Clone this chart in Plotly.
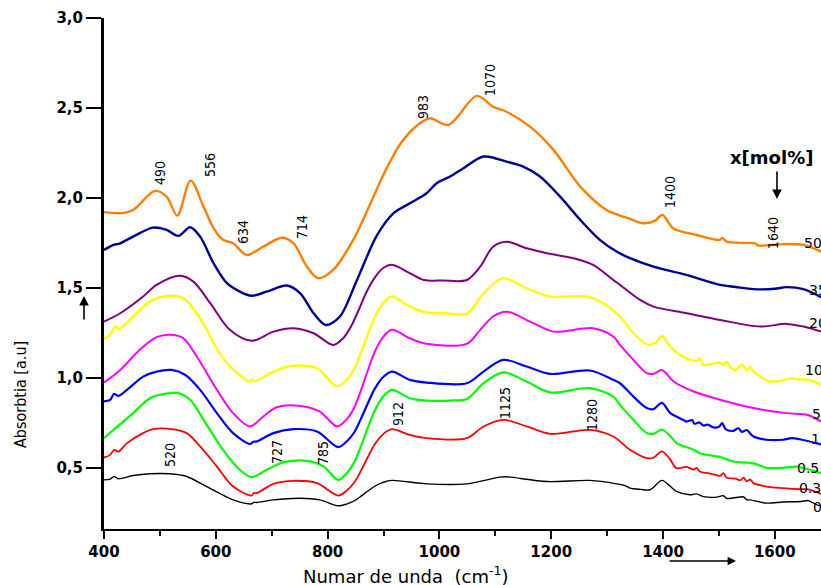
import plotly.graph_objects as go

# ---------------- data ----------------
series_names = ["50", "35", "20", "10", "5", "1", "0.5", "0.3", "0"]

x_50 = [400, 429, 452, 491, 512, 531, 555, 578, 596, 613, 631, 655, 685, 718, 739, 763, 783, 810, 846, 876, 900, 930,
        959, 983, 1016, 1067, 1096, 1120, 1162, 1204, 1252, 1299, 1340, 1365, 1386, 1399, 1418, 1460, 1502, 1506,
        1514, 1540, 1565, 1570, 1600, 1621, 1651, 1683]
y_50 = [1.921, 1.915, 1.933, 2.039, 2.007, 1.902, 2.096, 1.952, 1.832, 1.767, 1.748, 1.683, 1.729, 1.779, 1.748,
        1.618, 1.554, 1.600, 1.767, 1.965, 2.130, 2.300, 2.400, 2.443, 2.406, 2.567, 2.507, 2.479, 2.396, 2.267,
        2.063, 1.933, 1.885, 1.859, 1.874, 1.906, 1.832, 1.794, 1.767, 1.778, 1.757, 1.750, 1.748, 1.736, 1.740,
        1.744, 1.739, 1.702]

x_35 = [400, 410, 417, 429, 452, 488, 512, 533, 554, 572, 596, 620, 643, 664, 691, 727, 751, 775, 797, 822, 852,
        888, 918, 953, 977, 995, 1019, 1043, 1079, 1120, 1150, 1180, 1216, 1252, 1287, 1317, 1341, 1383, 1442, 1502,
        1530, 1562, 1600, 1621, 1651, 1683]
y_35 = [1.711, 1.728, 1.739, 1.748, 1.785, 1.835, 1.822, 1.789, 1.837, 1.785, 1.637, 1.526, 1.479, 1.456, 1.479,
        1.513, 1.470, 1.359, 1.294, 1.341, 1.540, 1.790, 1.915, 1.980, 2.026, 2.082, 2.119, 2.165, 2.230, 2.202,
        2.174, 2.119, 2.007, 1.878, 1.767, 1.702, 1.665, 1.618, 1.572, 1.517, 1.505, 1.493, 1.495, 1.504, 1.493,
        1.448]

x_20 = [400, 429, 470, 494, 536, 560, 590, 625, 664, 703, 739, 775, 810, 828, 843, 856, 870, 885, 900, 915, 947, 972,
        1007, 1049, 1073, 1096, 1120, 1156, 1192, 1240, 1275, 1311, 1323, 1359, 1383, 1442, 1502, 1574, 1621, 1651,
        1683]
y_20 = [1.313, 1.359, 1.452, 1.517, 1.568, 1.535, 1.415, 1.267, 1.206, 1.257, 1.276, 1.248, 1.183, 1.220, 1.292,
        1.380, 1.480, 1.560, 1.612, 1.628, 1.582, 1.544, 1.541, 1.544, 1.618, 1.729, 1.757, 1.720, 1.693, 1.665,
        1.628, 1.544, 1.517, 1.433, 1.396, 1.359, 1.322, 1.285, 1.300, 1.285, 1.257]

x_10 = [400, 411, 420, 426, 452, 482, 518, 542, 566, 584, 596, 620, 661, 666, 670, 680, 703, 739, 781, 817, 835,
        848, 860, 872, 885, 900, 915, 947, 977, 1013, 1049, 1079, 1114, 1156, 1198, 1263, 1293, 1323, 1347, 1374,
        1389, 1398, 1413, 1430, 1448, 1460, 1466, 1472, 1490, 1500, 1508, 1514, 1520, 1532, 1538, 1544, 1550, 1556,
        1562, 1591, 1620, 1630, 1639, 1660, 1683]
y_10 = [1.220, 1.239, 1.285, 1.270, 1.341, 1.424, 1.456, 1.443, 1.359, 1.267, 1.193, 1.081, 0.980, 0.990, 0.982,
        0.995, 1.035, 1.067, 1.054, 0.952, 0.992, 1.052, 1.142, 1.242, 1.342, 1.417, 1.452, 1.396, 1.363, 1.359,
        1.356, 1.470, 1.554, 1.498, 1.452, 1.452, 1.415, 1.341, 1.248, 1.183, 1.202, 1.233, 1.174, 1.128, 1.100,
        1.095, 1.110, 1.072, 1.080, 1.085, 1.072, 1.090, 1.060, 1.044, 1.070, 1.067, 1.040, 1.060, 1.035, 0.980,
        0.990, 0.998, 0.993, 0.990, 0.961]

x_5 = [400, 429, 464, 494, 521, 542, 566, 602, 631, 661, 685, 709, 751, 786, 817, 835, 848, 860, 872, 885, 900, 915,
       947, 977, 1049, 1073, 1096, 1120, 1168, 1204, 1275, 1311, 1323, 1347, 1371, 1383, 1398, 1419, 1455, 1502,
       1562, 1621, 1659, 1683]
y_5 = [0.974, 1.044, 1.156, 1.226, 1.239, 1.220, 1.119, 0.933, 0.804, 0.730, 0.785, 0.837, 0.844, 0.813, 0.730,
       0.773, 0.837, 0.934, 1.041, 1.149, 1.229, 1.267, 1.220, 1.189, 1.189, 1.267, 1.341, 1.368, 1.304, 1.257,
       1.276, 1.230, 1.183, 1.100, 1.026, 1.022, 1.044, 0.980, 0.924, 0.878, 0.832, 0.804, 0.794, 0.757]

x_1 = [400, 411, 418, 426, 441, 470, 494, 521, 545, 572, 602, 631, 661, 667, 673, 703, 739, 781, 819, 835, 848, 860,
       872, 885, 900, 915, 947, 977, 1049, 1079, 1114, 1156, 1198, 1269, 1311, 1323, 1347, 1371, 1383, 1398, 1413,
       1424, 1437, 1442, 1452, 1456, 1465, 1472, 1480, 1490, 1500, 1506, 1512, 1525, 1535, 1541, 1550, 1556, 1562,
       1585, 1615, 1630, 1645, 1683]
y_1 = [0.869, 0.878, 0.911, 0.900, 0.933, 1.007, 1.035, 1.044, 1.017, 0.933, 0.804, 0.693, 0.633, 0.645, 0.646,
       0.693, 0.715, 0.702, 0.615, 0.649, 0.699, 0.775, 0.859, 0.943, 1.006, 1.035, 0.989, 0.974, 0.970, 1.035,
       1.100, 1.063, 1.022, 1.041, 0.989, 0.970, 0.896, 0.832, 0.826, 0.861, 0.804, 0.785, 0.765, 0.757, 0.765,
       0.745, 0.752, 0.735, 0.740, 0.725, 0.728, 0.748, 0.715, 0.705, 0.720, 0.700, 0.710, 0.690, 0.674, 0.656,
       0.656, 0.665, 0.659, 0.630]

x_05 = [400, 417, 452, 482, 500, 533, 554, 578, 613, 643, 664, 691, 721, 763, 793, 819, 835, 848, 860, 872, 885, 900,
        915, 947, 977, 1019, 1049, 1079, 1114, 1156, 1198, 1269, 1311, 1323, 1347, 1371, 1383, 1398, 1419, 1424,
        1455, 1466, 1502, 1526, 1562, 1585, 1615, 1639, 1663, 1683]
y_05 = [0.665, 0.711, 0.804, 0.887, 0.906, 0.915, 0.878, 0.767, 0.600, 0.489, 0.448, 0.489, 0.530, 0.539, 0.507,
        0.433, 0.473, 0.533, 0.623, 0.723, 0.823, 0.898, 0.933, 0.887, 0.874, 0.874, 0.883, 0.970, 1.030, 0.980,
        0.919, 0.943, 0.896, 0.850, 0.767, 0.693, 0.689, 0.713, 0.656, 0.637, 0.600, 0.581, 0.560, 0.535, 0.525,
        0.500, 0.500, 0.507, 0.489, 0.470]

x_03 = [400, 411, 418, 426, 441, 470, 488, 521, 548, 572, 602, 631, 664, 668, 673, 703, 739, 781, 819, 835, 848, 860,
        872, 885, 900, 915, 947, 977, 1049, 1079, 1114, 1156, 1198, 1269, 1311, 1341, 1371, 1383, 1398, 1412, 1424,
        1442, 1455, 1460, 1466, 1480, 1496, 1502, 1508, 1514, 1530, 1538, 1544, 1550, 1556, 1562, 1585, 1615, 1645,
        1660, 1683]
y_03 = [0.557, 0.572, 0.600, 0.590, 0.637, 0.693, 0.715, 0.715, 0.693, 0.619, 0.507, 0.396, 0.346, 0.360, 0.359,
        0.411, 0.428, 0.415, 0.346, 0.376, 0.420, 0.486, 0.560, 0.634, 0.689, 0.715, 0.683, 0.665, 0.665, 0.730,
        0.767, 0.730, 0.689, 0.711, 0.674, 0.600, 0.554, 0.556, 0.591, 0.550, 0.498, 0.505, 0.490, 0.500, 0.480,
        0.470, 0.460, 0.455, 0.470, 0.445, 0.440, 0.430, 0.445, 0.425, 0.435, 0.415, 0.396, 0.387, 0.381, 0.380,
        0.355]

x_0 = [400, 411, 418, 426, 452, 482, 518, 548, 584, 631, 664, 668, 673, 703, 751, 786, 819, 835, 848, 860, 872, 885,
       900, 915, 977, 1049, 1108, 1120, 1192, 1269, 1317, 1333, 1341, 1360, 1377, 1398, 1412, 1424, 1448, 1460, 1472,
       1496, 1508, 1514, 1530, 1544, 1550, 1556, 1585, 1615, 1647, 1660, 1675, 1683]
y_0 = [0.433, 0.437, 0.452, 0.439, 0.457, 0.467, 0.467, 0.452, 0.396, 0.322, 0.300, 0.308, 0.307, 0.322, 0.331,
       0.322, 0.289, 0.300, 0.317, 0.343, 0.371, 0.399, 0.420, 0.430, 0.411, 0.411, 0.448, 0.450, 0.424, 0.430,
       0.411, 0.400, 0.387, 0.380, 0.378, 0.430, 0.400, 0.369, 0.350, 0.355, 0.340, 0.337, 0.345, 0.330, 0.335,
       0.338, 0.322, 0.322, 0.304, 0.310, 0.313, 0.318, 0.294, 0.290]

xs = [x_50, x_35, x_20, x_10, x_5, x_1, x_05, x_03, x_0]
ys = [y_50, y_35, y_20, y_10, y_5, y_1, y_05, y_03, y_0]

x_tickvals = [400, 600, 800, 1000, 1200, 1400, 1600]
x_minorvals = [500, 700, 900, 1100, 1300, 1500, 1700]
y_tickvals = [0.5, 1.0, 1.5, 2.0, 2.5, 3.0]
y_ticktext = ["0,5", "1,0", "1,5", "2,0", "2,5", "3,0"]

peak_texts = ["490", "556", "634", "714", "983", "1070", "1400", "1640",
              "520", "727", "785", "912", "1125", "1280"]

# ---------------- styling / layout ----------------
colors = ["#FF8000", "#000099", "#800080", "#FFFF00", "#FF00FF", "#0000FF", "#00FF00", "#FF0000", "#000000"]
widths = [2.4, 2.4, 2.0, 2.4, 2.0, 2.2, 2.2, 1.8, 1.4]

W, H = 821, 585
ML, MR, MT, MB = 104, 0, 18, 56
PW, PH = W - ML - MR, H - MT - MB


def px(xp):
    return (xp - ML) / PW


def py(yp):
    return (H - MB - yp) / PH


fig = go.Figure()
for name, x, y, c, w in zip(series_names, xs, ys, colors, widths):
    fig.add_trace(go.Scatter(x=x, y=y, mode="lines", name=name,
                             line=dict(color=c, width=w, shape="spline", smoothing=0.9),
                             showlegend=False))

x_right = 400 + PW / 0.559

narrow = "Liberation Sans Narrow, DejaVu Sans Condensed, Arial Narrow, Liberation Sans, sans-serif"
wide = "DejaVu Sans, Verdana, sans-serif"

annotations = []
peak_pos = [(160, 173), (210, 165), (243, 232), (302, 227), (423, 107), (490, 80), (670, 192), (773, 233),
            (170, 455), (277, 452), (323, 453), (398, 414), (505, 403), (592, 415)]
for t, (xp, yp) in zip(peak_texts, peak_pos):
    annotations.append(dict(text=t, x=px(xp), y=py(yp), xref="paper", yref="paper", showarrow=False,
                            textangle=-90, xanchor="center", yanchor="middle",
                            font=dict(family=narrow, size=14, color="black")))

conc_pos = [(802, 243), (807, 290), (807, 323), (803, 370), (810, 414), (809, 439), (795, 468), (797, 488),
            (811, 507)]
for t, (xp, yp) in zip(series_names, conc_pos):
    annotations.append(dict(text=t, x=px(xp), y=py(yp), xref="paper", yref="paper", showarrow=False,
                            xanchor="left", yanchor="middle",
                            font=dict(family=wide, size=14, color="black")))

annotations.append(dict(text="<b>x[mol%]</b>", x=px(771), y=py(157), xref="paper", yref="paper",
                        showarrow=False, xanchor="center", yanchor="middle",
                        font=dict(family=wide, size=18, color="black")))
annotations.append(dict(text="", x=px(777), y=py(199), xref="paper", yref="paper", showarrow=True,
                        ax=0, ay=-29, arrowhead=2, arrowsize=1.2, arrowwidth=1.6, arrowcolor="black"))
annotations.append(dict(text="", x=px(84), y=py(296), xref="paper", yref="paper", showarrow=True,
                        ax=0, ay=25, arrowhead=2, arrowsize=1.2, arrowwidth=1.6, arrowcolor="black"))
annotations.append(dict(text="", x=px(736), y=py(561), xref="paper", yref="paper", showarrow=True,
                        ax=-68, ay=0, arrowhead=2, arrowsize=1.2, arrowwidth=1.4, arrowcolor="black"))

annotations.append(dict(text="Numar de unda  (cm<sup>-1</sup>)", x=px(406), y=py(575), xref="paper",
                        yref="paper", showarrow=False, xanchor="center", yanchor="middle",
                        font=dict(family=wide, size=18, color="black")))
annotations.append(dict(text="Absorbtia [a.u]", x=px(20), y=py(395), xref="paper", yref="paper",
                        showarrow=False, textangle=-90, xanchor="center", yanchor="middle",
                        font=dict(family=narrow, size=16, color="black")))

fig.update_layout(
    width=W, height=H,
    margin=dict(l=ML, r=MR, t=MT, b=MB),
    paper_bgcolor="white", plot_bgcolor="white",
    annotations=annotations,
    xaxis=dict(range=[400, x_right], tickvals=x_tickvals, ticktext=[str(v) for v in x_tickvals],
               showgrid=False, zeroline=False, showline=True, linecolor="black", linewidth=2,
               ticks="outside", ticklen=8, tickwidth=1.5, tickcolor="black",
               tickfont=dict(family=wide, size=15, color="black", weight="bold"),
               minor=dict(tickvals=x_minorvals, ticks="outside", ticklen=5, tickwidth=1.5, tickcolor="black",
                          showgrid=False)),
    yaxis=dict(range=[0.16, 3.0], tickvals=y_tickvals, ticktext=y_ticktext,
               showgrid=False, zeroline=False, showline=True, linecolor="black", linewidth=3,
               ticks="outside", ticklen=15, tickwidth=1.5, tickcolor="black",
               tickfont=dict(family=wide, size=15, color="black", weight="bold")),
)

fig.write_html("out.html")
